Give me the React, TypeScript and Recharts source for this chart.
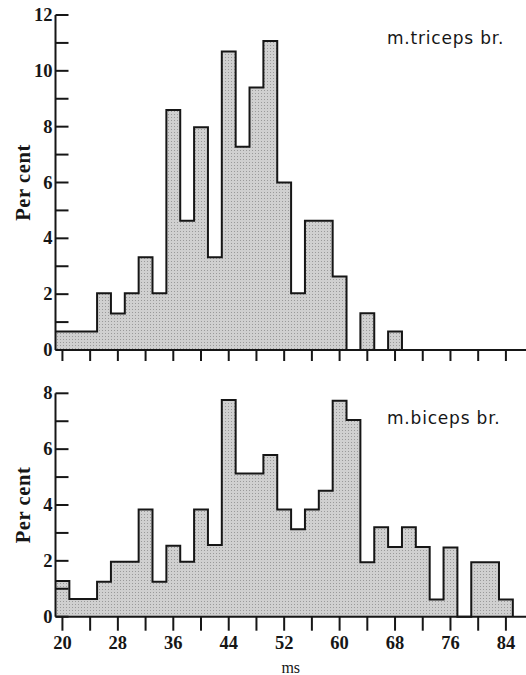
import React from 'react';
import { AreaChart, Area, XAxis, YAxis } from 'recharts';

// bin centres (ms) and percentages
const tricepsBins = [20, 22, 24, 26, 28, 30, 32, 34, 36, 38, 40, 42, 44, 46, 48, 50, 52, 54, 56, 58, 60, 62, 64, 66, 68];
const tricepsPct = [0.66, 0.66, 0.66, 2.03, 1.31, 2.03, 3.32, 2.03, 8.6, 4.63, 7.98, 3.32, 10.69, 7.28, 9.4, 11.07, 6.0, 2.03, 4.63, 4.63, 2.63, 0, 1.32, 0, 0.66];

const bicepsBins = [20, 22, 24, 26, 28, 30, 32, 34, 36, 38, 40, 42, 44, 46, 48, 50, 52, 54, 56, 58, 60, 62, 64, 66, 68, 70, 72, 74, 76, 78, 80, 82, 84];
const bicepsPct = [1.28, 0.63, 0.63, 1.25, 1.97, 1.97, 3.84, 1.25, 2.54, 1.97, 3.84, 2.57, 7.76, 5.13, 5.13, 5.79, 3.84, 3.13, 3.84, 4.51, 7.73, 7.04, 1.95, 3.2, 2.5, 3.2, 2.5, 0.62, 2.48, 0, 1.95, 1.95, 0.62];

const xTicks = [20, 24, 28, 32, 36, 40, 44, 48, 52, 56, 60, 64, 68, 72, 76, 80, 84];
const xLabelTicks = [20, 28, 36, 44, 52, 60, 68, 76, 84];
const tricepsYTicks = [0, 1, 2, 3, 4, 5, 6, 7, 8, 9, 10, 11, 12];
const bicepsYTicks = [0, 1, 2, 3, 4, 5, 6, 7, 8];
const binWidth = 2;

const toSteps = (bins: number[], vals: number[]) => {
  const rows = bins.map((b, i) => ({ x: b - binWidth / 2, v: vals[i] }));
  rows.push({ x: bins[bins.length - 1] + binWidth / 2, v: 0 });
  return rows;
};

const tricepsData = toSteps(tricepsBins, tricepsPct);
const bicepsData = toSteps(bicepsBins, bicepsPct);

const INK = '#161616';
const SERIF = '"Liberation Serif", "DejaVu Serif", serif';
const SANS = '"DejaVu Sans", sans-serif';

const YTick = (props: any) => {
  const { x, y, payload } = props;
  const v = payload.value;
  return (
    <g>
      <line x1={x} x2={x + 13} y1={y} y2={y} stroke={INK} strokeWidth={2} />
      {v % 2 === 0 && (
        <text x={x - 3} y={y} textAnchor="end" dominantBaseline="central" fontFamily={SERIF} fontWeight="bold" fontSize={18.5} fill={INK}>
          {v}
        </text>
      )}
    </g>
  );
};

const EmptyTick = () => <g />;

const XTickLabel = (props: any) => {
  const { x, y, payload } = props;
  const v = payload.value;
  if (!xLabelTicks.includes(v)) return <g />;
  return (
    <text x={x} y={y + 12} textAnchor="middle" dominantBaseline="central" fontFamily={SERIF} fontWeight="bold" fontSize={18.5} fill={INK}>
      {v}
    </text>
  );
};

const Pattern = ({ id }: { id: string }) => (
  <defs>
    <pattern id={id} width={3} height={3} patternUnits="userSpaceOnUse">
      <rect width={3} height={3} fill="#d0d0d0" />
      <rect width={1} height={1} fill="#9a9a9a" />
    </pattern>
  </defs>
);

const LEFT = 55.5;
const X_DOMAIN: [number, number] = [19, 86.9];
const yLabel = { value: 'Per cent', angle: -90, position: 'center' as const, dx: -5.5, style: { fontFamily: SERIF, fontWeight: 'bold', fontSize: 20.5, letterSpacing: 0.6, fill: INK } };

export default function App() {
  return (
    <div style={{ position: 'absolute', left: 0, top: 0, width: 526, height: 675, overflow: 'hidden', background: '#fff' }}>
      <div style={{ position: 'absolute', left: 0, top: 0 }}>
        <AreaChart width={526} height={370} data={tricepsData} margin={{ top: 15, right: 0, left: 0, bottom: 0 }}>
          <Pattern id="stipT" />
          <XAxis
            dataKey="x"
            type="number"
            domain={X_DOMAIN}
            ticks={xTicks}
            allowDataOverflow
            height={20}
            tickSize={11}
            tickLine={{ stroke: INK, strokeWidth: 2 }}
            axisLine={{ stroke: INK, strokeWidth: 2 }}
            tick={EmptyTick}
          />
          <YAxis
            type="number"
            domain={[0, 12]}
            ticks={tricepsYTicks}
            width={LEFT}
            tickSize={0}
            tickMargin={0}
            tickLine={false}
            axisLine={{ stroke: INK, strokeWidth: 2 }}
            tick={YTick}
            interval={0}
            label={yLabel}
          />
          <Area
            type="stepAfter"
            dataKey="v"
            stroke={INK}
            strokeWidth={2}
            fill="url(#stipT)"
            fillOpacity={1}
            isAnimationActive={false}
            dot={false}
            activeDot={false}
          />
          <text x={387} y={44} fontFamily={SANS} fontSize={17} letterSpacing={0.8} fill={INK}>
            m.triceps br.
          </text>
        </AreaChart>
      </div>
      <div style={{ position: 'absolute', left: 0, top: 370 }}>
        <AreaChart width={526} height={305} data={bicepsData} margin={{ top: 23.3, right: 0, left: 0, bottom: 0 }}>
          <Pattern id="stipB" />
          <XAxis
            dataKey="x"
            type="number"
            domain={X_DOMAIN}
            ticks={xTicks}
            allowDataOverflow
            height={58.3}
            tickSize={14}
            tickMargin={0}
            tickLine={{ stroke: INK, strokeWidth: 2 }}
            axisLine={{ stroke: INK, strokeWidth: 2 }}
            tick={XTickLabel}
            interval={0}
            label={{ value: 'ms', position: 'insideBottom', offset: 2, style: { fontFamily: SERIF, fontSize: 16, fill: INK } }}
          />
          <YAxis
            type="number"
            domain={[0, 8]}
            ticks={bicepsYTicks}
            width={LEFT}
            tickSize={0}
            tickMargin={0}
            tickLine={false}
            axisLine={{ stroke: INK, strokeWidth: 2 }}
            tick={YTick}
            interval={0}
            label={yLabel}
          />
          <Area
            type="stepAfter"
            dataKey="v"
            stroke={INK}
            strokeWidth={2}
            fill="url(#stipB)"
            fillOpacity={1}
            isAnimationActive={false}
            dot={false}
            activeDot={false}
          />
          <text x={387} y={54} fontFamily={SANS} fontSize={17} letterSpacing={0.8} fill={INK}>
            m.biceps br.
          </text>
        </AreaChart>
      </div>
    </div>
  );
}
